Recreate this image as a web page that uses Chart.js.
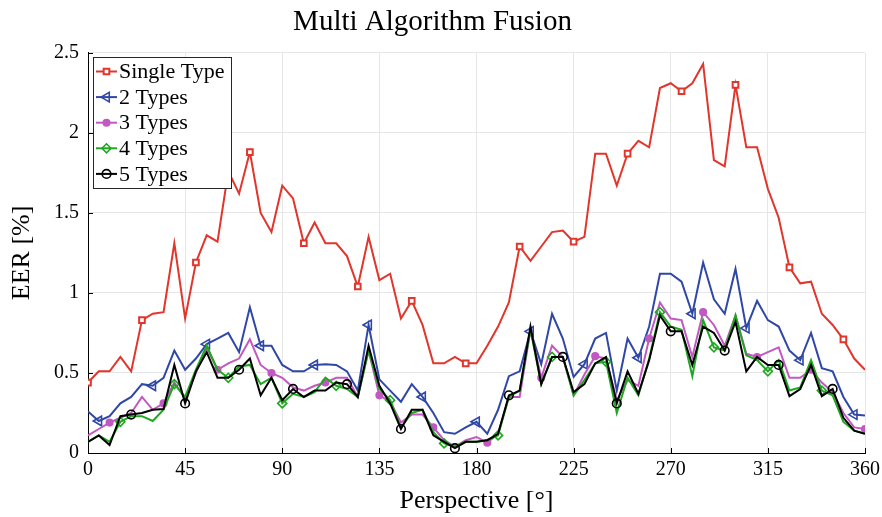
<!DOCTYPE html>
<html><head><meta charset="utf-8">
<script src="https://cdn.jsdelivr.net/npm/chart.js@4/dist/chart.umd.min.js"></script>
<style>html,body{margin:0;padding:0;background:#fff}#wrap{width:882px;height:517px}</style>
</head><body><div id="wrap"><canvas id="c" width="882" height="517"></canvas></div>
<script>
const chartTitle = "Multi Algorithm Fusion";
const xTitle = "Perspective [°]";
const yTitle = "EER [%]";
const seriesNames = ["Single Type", "2 Types", "3 Types", "4 Types", "5 Types"];

const angles = [0,5,10,15,20,25,30,35,40,45,50,55,60,65,70,75,80,85,90,95,100,105,110,115,120,125,130,135,140,145,150,155,160,165,170,175,180,185,190,195,200,205,210,215,220,225,230,235,240,245,250,255,260,265,270,275,280,285,290,295,300,305,310,315,320,325,330,335,340,345,350,355,360];

const singleType = [0.44,0.51,0.51,0.60,0.51,0.83,0.87,0.88,1.31,0.84,1.19,1.36,1.32,1.76,1.62,1.88,1.50,1.38,1.67,1.59,1.31,1.44,1.31,1.31,1.23,1.04,1.35,1.08,1.12,0.84,0.95,0.80,0.56,0.56,0.60,0.56,0.56,0.67,0.79,0.94,1.29,1.20,1.29,1.38,1.39,1.32,1.35,1.87,1.87,1.67,1.87,1.95,1.91,2.28,2.31,2.26,2.31,2.43,1.83,1.79,2.30,1.91,1.91,1.65,1.47,1.16,1.06,1.07,0.87,0.80,0.71,0.59,0.52];

const types2 = [0.26,0.20,0.23,0.31,0.35,0.43,0.42,0.47,0.64,0.52,0.59,0.68,0.715,0.75,0.63,0.91,0.67,0.67,0.55,0.51,0.51,0.55,0.555,0.55,0.51,0.39,0.80,0.46,0.39,0.32,0.43,0.35,0.25,0.13,0.12,0.16,0.195,0.12,0.27,0.48,0.51,0.76,0.555,0.87,0.715,0.475,0.555,0.715,0.75,0.39,0.715,0.595,0.79,1.12,1.12,1.07,0.87,1.19,0.96,0.87,1.15,0.78,0.95,0.83,0.79,0.64,0.58,0.75,0.53,0.51,0.35,0.24,0.235];

const types3 = [0.11,0.15,0.19,0.22,0.25,0.35,0.27,0.31,0.44,0.34,0.50,0.66,0.52,0.56,0.59,0.71,0.55,0.50,0.47,0.41,0.39,0.42,0.44,0.47,0.47,0.35,0.64,0.36,0.32,0.19,0.24,0.24,0.16,0.08,0.04,0.08,0.10,0.064,0.12,0.35,0.35,0.77,0.47,0.67,0.60,0.36,0.49,0.605,0.59,0.33,0.455,0.42,0.715,0.94,0.84,0.83,0.60,0.88,0.80,0.67,0.86,0.62,0.60,0.63,0.66,0.47,0.47,0.52,0.44,0.38,0.25,0.16,0.15];

const types4 = [0.07,0.11,0.07,0.195,0.23,0.23,0.20,0.27,0.43,0.35,0.52,0.67,0.52,0.47,0.54,0.55,0.43,0.47,0.31,0.37,0.35,0.38,0.47,0.42,0.40,0.35,0.64,0.40,0.33,0.16,0.25,0.27,0.13,0.06,0.04,0.07,0.07,0.08,0.11,0.35,0.39,0.77,0.43,0.60,0.60,0.36,0.455,0.56,0.57,0.25,0.47,0.36,0.59,0.88,0.79,0.77,0.48,0.83,0.66,0.64,0.86,0.61,0.58,0.51,0.58,0.39,0.41,0.58,0.39,0.36,0.195,0.14,0.12];

const types5 = [0.07,0.11,0.05,0.23,0.24,0.25,0.27,0.275,0.55,0.31,0.51,0.63,0.47,0.47,0.52,0.59,0.36,0.47,0.33,0.40,0.35,0.39,0.39,0.44,0.43,0.35,0.67,0.42,0.31,0.15,0.27,0.27,0.11,0.07,0.03,0.07,0.07,0.08,0.12,0.36,0.39,0.79,0.43,0.60,0.60,0.38,0.43,0.56,0.60,0.31,0.51,0.37,0.58,0.86,0.76,0.76,0.55,0.79,0.75,0.64,0.82,0.51,0.60,0.55,0.55,0.355,0.40,0.55,0.355,0.40,0.22,0.14,0.12];

const xTicks = [0,45,90,135,180,225,270,315,360];
const yTicks = [0,0.5,1,1.5,2,2.5];
const yTickLabels = ["0","0.5","1","1.5","2","2.5"];

const FONT = "'Liberation Serif', 'Times New Roman', serif";

const styles = [
  {color:'#e2352b', pointStyle:'rect', r:4, fill:'#ffffff', bw:2, off:0, rot:0},
  {color:'#2f47a6', pointStyle:'triangle', r:5.5, fill:'rgba(255,255,255,0)', bw:1.6, off:1, rot:-90},
  {color:'#c258c2', pointStyle:'circle', r:3.3, fill:'#c258c2', bw:1.5, off:2, rot:0},
  {color:'#1fa81f', pointStyle:'rectRot', r:4.5, fill:'rgba(255,255,255,0)', bw:1.6, off:3, rot:0},
  {color:'#000000', pointStyle:'circle', r:4.3, fill:'rgba(255,255,255,0)', bw:1.6, off:4, rot:0}
];
const seriesValues = [singleType, types2, types3, types4, types5];

const datasets = seriesValues.map((vals, k) => {
  const s = styles[k];
  return {
    label: seriesNames[k],
    data: angles.map((a, i) => ({x: a, y: vals[i]})),
    borderColor: s.color,
    borderWidth: 2,
    backgroundColor: s.color,
    pointStyle: s.pointStyle,
    pointRotation: s.rot,
    pointRadius: ctx => (ctx.dataIndex % 5 === s.off ? s.r : 0),
    pointHoverRadius: 0,
    pointBackgroundColor: s.fill,
    pointBorderColor: s.color,
    pointBorderWidth: s.bw,
    tension: 0,
    fill: false,
    order: 5 - k
  };
});

function drawMarker(ctx, s, x, y) {
  ctx.save();
  ctx.strokeStyle = s.color; ctx.fillStyle = s.fill; ctx.lineWidth = s.bw;
  Chart.helpers.drawPoint(ctx, {pointStyle: s.pointStyle, rotation: s.rot, radius: s.r, borderWidth: s.bw}, x, y);
  ctx.restore();
}

const decorations = {
  id: 'decorations',
  afterDraw(chart) {
    const {ctx, chartArea: a, scales: {x, y}} = chart;
    ctx.save();
    ctx.strokeStyle = '#000'; ctx.lineWidth = 1;
    x.ticks.forEach(t => {
      const px = Math.round(x.getPixelForValue(t.value)) + 0.5;
      ctx.beginPath(); ctx.moveTo(px, a.bottom); ctx.lineTo(px, a.bottom - 5); ctx.stroke();
    });
    y.ticks.forEach(t => {
      const py = Math.round(y.getPixelForValue(t.value)) + 0.5;
      ctx.beginPath(); ctx.moveTo(a.left, py); ctx.lineTo(a.left + 5, py); ctx.stroke();
    });
    const bx = 93.5, by = 57.5, bw = 138, bh = 131;
    ctx.fillStyle = '#fff';
    ctx.fillRect(bx, by, bw, bh);
    ctx.strokeStyle = '#262626'; ctx.lineWidth = 1;
    ctx.strokeRect(bx, by, bw, bh);
    ctx.font = "22px " + FONT;
    ctx.textBaseline = 'middle';
    ctx.textAlign = 'left';
    seriesNames.forEach((name, k) => {
      const s = styles[k];
      const ly = 71.5 + k * 25.6;
      ctx.strokeStyle = s.color; ctx.lineWidth = 2;
      ctx.beginPath(); ctx.moveTo(96, ly); ctx.lineTo(117, ly); ctx.stroke();
      drawMarker(ctx, s, 106.5, ly);
      ctx.fillStyle = '#000';
      ctx.fillText(name, 119, ly + 1);
    });
    ctx.restore();
  }
};

new Chart(document.getElementById('c'), {
  type: 'line',
  data: { datasets },
  plugins: [decorations],
  options: {
    responsive: false,
    animation: false,
    devicePixelRatio: 1,
    layout: { padding: { left: 0, right: 17, top: 0, bottom: 0 } },
    plugins: {
      legend: { display: false },
      tooltip: { enabled: false },
      title: {
        display: true,
        text: chartTitle,
        color: '#000',
        font: { family: FONT, size: 29, weight: 'normal' },
        padding: { top: 5, bottom: 13 }
      }
    },
    scales: {
      x: {
        type: 'linear',
        min: 0, max: 360,
        afterBuildTicks: s => { s.ticks = xTicks.map(v => ({value: v})); },
        afterFit: s => { s.height = 64; s.paddingLeft = 0; s.paddingRight = 0; },
        ticks: { color: '#000', font: { family: FONT, size: 20 }, padding: 5, maxRotation: 0, autoSkip: false },
        grid: { color: '#e6e6e6', lineWidth: 1, drawTicks: false },
        border: { display: true, color: '#000', width: 1 },
        title: { display: true, text: xTitle, color: '#000', font: { family: FONT, size: 26 }, padding: { top: 1, bottom: 0 } }
      },
      y: {
        type: 'linear',
        min: 0, max: 2.5,
        afterBuildTicks: s => { s.ticks = yTicks.map(v => ({value: v})); },
        afterFit: s => { s.width = 88; s.paddingTop = 0; s.paddingBottom = 0; },
        ticks: {
          color: '#000', font: { family: FONT, size: 20 }, padding: 9,
          callback: (v) => { const i = yTicks.indexOf(v); return i >= 0 ? yTickLabels[i] : String(v); }
        },
        grid: { color: '#e6e6e6', lineWidth: 1, drawTicks: false },
        border: { display: true, color: '#000', width: 1 },
        title: { display: true, text: yTitle, color: '#000', font: { family: FONT, size: 26 }, padding: { top: 7, bottom: 0 } }
      }
    }
  }
});
</script>
</body></html>
